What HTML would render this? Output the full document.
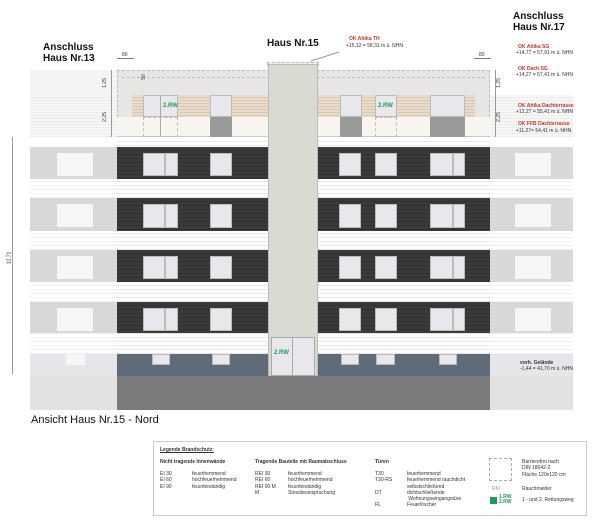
<!DOCTYPE html>
<html><head><meta charset="utf-8"><style>
body{margin:0;width:600px;height:530px;background:#fff;position:relative;overflow:hidden;font-family:"Liberation Sans",sans-serif}
div{position:absolute;box-sizing:border-box}
.dk{background:repeating-linear-gradient(#3a3a3a 0 3px,#2f2f2f 3px 4px)}
.wh{background:repeating-linear-gradient(#fff 0 3px,#e6e6e6 3px 4px)}
.wd{background:repeating-linear-gradient(#e9dccb 0 2px,#d9c8b0 2px 3px)}
.w{background:#e8e8ec;border:1px solid #bbb}
.nw{background:#f6f6f6}
.m{width:2px;background:#bbb}
.t{font-size:5px;color:#333;white-space:nowrap}
.r{font-size:5px;color:#c0392b;font-weight:bold;white-space:nowrap}
.g{color:#1e9a5a;font-weight:bold;font-size:6px}
.L{font-size:5px;color:#333;white-space:nowrap;line-height:6.3px}
</style></head><body>
<!-- neighbors -->
<div style="left:30px;top:70px;width:87px;height:67px;background:#f4f4f4"></div>
<div style="left:30px;top:95px;width:87px;height:42px;background:repeating-linear-gradient(#f6f6f6 0 2px,#ececec 2px 3px)"></div>
<div style="left:490px;top:95px;width:83px;height:42px;background:repeating-linear-gradient(#f6f6f6 0 2px,#ececec 2px 3px)"></div>
<div style="left:30px;top:146px;width:87px;height:230px;background:repeating-linear-gradient(#fff 0 3px,#f0f0f0 3px 4px)"></div>
<div style="left:490px;top:146px;width:83px;height:230px;background:repeating-linear-gradient(#fff 0 3px,#f0f0f0 3px 4px)"></div>
<div style="left:30px;top:147px;width:87px;height:32px;background:#d8d8d8"></div>
<div style="left:30px;top:198px;width:87px;height:33px;background:#d8d8d8"></div>
<div style="left:30px;top:250px;width:87px;height:32px;background:#d8d8d8"></div>
<div style="left:30px;top:302px;width:87px;height:31px;background:#d8d8d8"></div>
<div style="left:490px;top:147px;width:83px;height:32px;background:#d8d8d8"></div>
<div style="left:490px;top:198px;width:83px;height:33px;background:#d8d8d8"></div>
<div style="left:490px;top:250px;width:83px;height:32px;background:#d8d8d8"></div>
<div style="left:490px;top:302px;width:83px;height:31px;background:#d8d8d8"></div>
<div class="nw" style="left:57px;top:153px;width:36px;height:23px"></div>
<div class="nw" style="left:57px;top:204px;width:36px;height:23px"></div>
<div class="nw" style="left:57px;top:256px;width:36px;height:23px"></div>
<div class="nw" style="left:57px;top:308px;width:36px;height:23px"></div>
<div class="nw" style="left:515px;top:153px;width:36px;height:23px"></div>
<div class="nw" style="left:515px;top:204px;width:36px;height:23px"></div>
<div class="nw" style="left:515px;top:256px;width:36px;height:23px"></div>
<div class="nw" style="left:515px;top:308px;width:36px;height:23px"></div>
<div style="left:30px;top:354px;width:87px;height:22px;background:#e6e6ea"></div>
<div style="left:490px;top:354px;width:83px;height:22px;background:#e6e6ea"></div>
<div style="left:30px;top:376px;width:87px;height:34px;background:#e2e2e2"></div>
<div style="left:490px;top:376px;width:83px;height:34px;background:#e2e2e2"></div>
<!-- penthouse -->
<div style="left:117px;top:70px;width:373px;height:67px;background:#e6e6e6;border:1px dashed #bbb"></div>
<div style="left:122px;top:77px;width:363px;height:1px;border-top:1px dashed #bbb"></div>
<div class="wd" style="left:132px;top:95px;width:343px;height:22px"></div>
<div style="left:117px;top:117px;width:373px;height:20px;background:#f8f5f0;border-bottom:1px solid #ccc"></div>
<div class="w" style="left:143px;top:95px;width:35px;height:22px"></div>
<div style="left:160px;top:95px;width:1px;height:42px;background:#aaa"></div>
<div class="g" style="left:163px;top:103px">2.RW</div>
<div style="left:143px;top:117px;width:35px;height:20px;border:1px dashed #bbb"></div>
<div class="w" style="left:210px;top:95px;width:22px;height:22px"></div>
<div style="left:210px;top:117px;width:22px;height:20px;background:#9a9a9a"></div>
<div class="w" style="left:340px;top:95px;width:22px;height:22px"></div>
<div style="left:340px;top:117px;width:22px;height:20px;background:#9a9a9a"></div>
<div class="w" style="left:375px;top:95px;width:22px;height:22px"></div>
<div class="g" style="left:378px;top:103px">2.RW</div>
<div style="left:375px;top:117px;width:22px;height:20px;border:1px dashed #bbb"></div>
<div class="w" style="left:430px;top:95px;width:35px;height:22px"></div>
<div style="left:430px;top:117px;width:35px;height:20px;background:#9a9a9a"></div>
<!-- main facade -->
<div class="wh" style="left:117px;top:138px;width:373px;height:216px"></div>
<div class="dk" style="left:117px;top:147px;width:373px;height:32px"></div>
<div class="dk" style="left:117px;top:198px;width:373px;height:33px"></div>
<div class="dk" style="left:117px;top:250px;width:373px;height:32px"></div>
<div class="dk" style="left:117px;top:302px;width:373px;height:31px"></div>
<div style="left:117px;top:354px;width:373px;height:22px;background:#5f6b78"></div>
<div style="left:117px;top:376px;width:373px;height:34px;background:#7b7b7b"></div>
<!-- windows -->
<div class="w" style="left:143px;top:153px;width:35px;height:23px"></div><div class="w" style="left:210px;top:153px;width:22px;height:23px"></div>
<div class="w" style="left:339px;top:153px;width:22px;height:23px"></div><div class="w" style="left:375px;top:153px;width:22px;height:23px"></div><div class="w" style="left:430px;top:153px;width:35px;height:23px"></div>
<div class="w" style="left:143px;top:204px;width:35px;height:24px"></div><div class="w" style="left:210px;top:204px;width:22px;height:24px"></div>
<div class="w" style="left:339px;top:204px;width:22px;height:24px"></div><div class="w" style="left:375px;top:204px;width:22px;height:24px"></div><div class="w" style="left:430px;top:204px;width:35px;height:24px"></div>
<div class="w" style="left:143px;top:256px;width:35px;height:23px"></div><div class="w" style="left:210px;top:256px;width:22px;height:23px"></div>
<div class="w" style="left:339px;top:256px;width:22px;height:23px"></div><div class="w" style="left:375px;top:256px;width:22px;height:23px"></div><div class="w" style="left:430px;top:256px;width:35px;height:23px"></div>
<div class="w" style="left:143px;top:308px;width:35px;height:23px"></div><div class="w" style="left:210px;top:308px;width:22px;height:23px"></div>
<div class="w" style="left:339px;top:308px;width:22px;height:23px"></div><div class="w" style="left:375px;top:308px;width:22px;height:23px"></div><div class="w" style="left:430px;top:308px;width:35px;height:23px"></div>
<div class="m" style="left:164px;top:153px;height:23px"></div><div class="m" style="left:164px;top:204px;height:24px"></div><div class="m" style="left:164px;top:256px;height:23px"></div><div class="m" style="left:164px;top:308px;height:23px"></div>
<div class="m" style="left:452px;top:153px;height:23px"></div><div class="m" style="left:452px;top:204px;height:24px"></div><div class="m" style="left:452px;top:256px;height:23px"></div><div class="m" style="left:452px;top:308px;height:23px"></div>
<div class="w" style="left:152px;top:354px;width:18px;height:11px"></div><div class="w" style="left:212px;top:354px;width:18px;height:11px"></div>
<div class="w" style="left:341px;top:354px;width:18px;height:11px"></div><div class="w" style="left:376px;top:354px;width:19px;height:11px"></div><div class="w" style="left:439px;top:354px;width:18px;height:11px"></div>
<div style="left:66px;top:354px;width:19px;height:11px;background:#f6f6f6"></div>
<!-- stair core -->
<div style="left:267px;top:62px;width:52px;height:4px;background:#eee;border:1px dashed #bbb"></div>
<div style="left:268px;top:64px;width:50px;height:312px;background:#d9dad2;border:1px solid #bbb"></div>
<div style="left:271px;top:337px;width:44px;height:39px;background:#e8e8ec;border:1px solid #aaa"></div>
<div style="left:292px;top:337px;width:1px;height:39px;background:#aaa"></div>
<div class="g" style="left:274px;top:350px">2.RW</div>
<!-- dimension lines -->
<div style="left:12px;top:137px;width:1px;height:237px;background:#999"></div>
<div class="t" style="left:3px;top:255px;transform:rotate(-90deg)">12,71</div>
<div style="left:111px;top:70px;width:1px;height:67px;background:#999"></div>
<div class="t" style="left:100px;top:80px;transform:rotate(-90deg)">1,25</div>
<div class="t" style="left:100px;top:114px;transform:rotate(-90deg)">2,25</div>
<div style="left:495px;top:70px;width:1px;height:67px;background:#999"></div>
<div class="t" style="left:494px;top:80px;transform:rotate(-90deg)">1,25</div>
<div class="t" style="left:494px;top:114px;transform:rotate(-90deg)">2,25</div>
<div class="t" style="left:122px;top:52px">80</div>
<div style="left:117px;top:58px;width:17px;height:1px;background:#777"></div>
<div class="t" style="left:479px;top:52px">80</div>
<div style="left:474px;top:58px;width:17px;height:1px;background:#777"></div>
<div class="t" style="left:141px;top:74px;transform:rotate(-90deg)">50</div>
<!-- labels -->
<div style="left:43px;top:42px;font-size:10px;font-weight:bold;line-height:11px;color:#111">Anschluss<br>Haus Nr.13</div>
<div style="left:513px;top:11px;font-size:10px;font-weight:bold;line-height:11px;color:#111">Anschluss<br>Haus Nr.17</div>
<div style="left:267px;top:38px;font-size:10px;font-weight:bold;color:#111">Haus Nr.15</div>
<div style="left:310px;top:56px;width:30px;height:1px;background:#999;transform:rotate(-18deg)"></div>
<div class="r" style="left:349px;top:36px">OK Attika TH</div>
<div class="t" style="left:346px;top:43px">+15,12 = 58,31 m ü. NHN</div>
<div class="r" style="left:518px;top:44px">OK Attika SG</div>
<div class="t" style="left:516px;top:50px">+14,77 = 57,91 m ü. NHN</div>
<div class="r" style="left:518px;top:66px">OK Dach SG</div>
<div class="t" style="left:516px;top:72px">+14,27 = 57,41 m ü. NHN</div>
<div class="r" style="left:518px;top:103px">OK Attika Dachterrasse</div>
<div class="t" style="left:516px;top:109px">+12,27 = 55,41 m ü. NHN</div>
<div class="r" style="left:518px;top:121px">OK FFB Dachterrasse</div>
<div class="t" style="left:516px;top:128px">+11,27= 54,41 m ü. NHN</div>
<div class="t" style="left:520px;top:360px;font-weight:bold">vorh. Gelände</div>
<div class="t" style="left:520px;top:366px">-1,44 = 41,70 m ü. NHN</div>
<div style="left:31px;top:414px;font-size:11px;color:#111">Ansicht Haus Nr.15 - Nord</div>
<!-- legend -->
<div style="left:153px;top:441px;width:434px;height:75px;border:1px solid #ccc"></div>
<div class="L" style="left:160px;top:447px;font-weight:bold;text-decoration:underline">Legende Brandschutz:</div>
<div class="L" style="left:160px;top:459px;font-weight:bold">Nicht tragende Innenwände</div>
<div class="L" style="left:160px;top:471px">EI 30<br>EI 60<br>EI 90</div>
<div class="L" style="left:192px;top:471px">feuerhemmend<br>hochfeuerhemmend<br>feuerbeständig</div>
<div class="L" style="left:255px;top:459px;font-weight:bold">Tragende Bauteile mit Raumabschluss</div>
<div class="L" style="left:255px;top:471px">REI 30<br>REI 60<br>REI 90 M<br>M</div>
<div class="L" style="left:288px;top:471px">feuerhemmend<br>hochfeuerhemmend<br>feuerbeständig<br>Stossbeanspruchung</div>
<div class="L" style="left:375px;top:459px;font-weight:bold">Türen</div>
<div class="L" style="left:375px;top:471px">T30<br>T30-RS<br><br>DT<br><br>FL</div>
<div class="L" style="left:407px;top:471px">feuerhemmend<br>feuerhemmend rauchdicht<br>selbstschließend<br>dichtschließende<br>&nbsp;Wohnungseingangstüre<br>Feuerlöscher</div>
<div style="left:489px;top:458px;width:23px;height:23px;border:1px dashed #aaa"></div>
<div class="L" style="left:522px;top:459px">Barrierefrei nach<br>DIN 18042-2<br>Fläche 120x120 cm</div>
<div class="L" style="left:492px;top:486px;color:#999">RM</div>
<div class="L" style="left:522px;top:486px">Rauchmelder</div>
<div style="left:490px;top:497px;width:7px;height:7px;background:#1e9a5a"></div>
<div class="L" style="left:499px;top:495px;color:#1e9a5a;font-weight:bold;line-height:5px">1.RW<br>2.RW</div>
<div class="L" style="left:522px;top:497px">1 - und 2. Rettungsweg</div>
</body></html>
